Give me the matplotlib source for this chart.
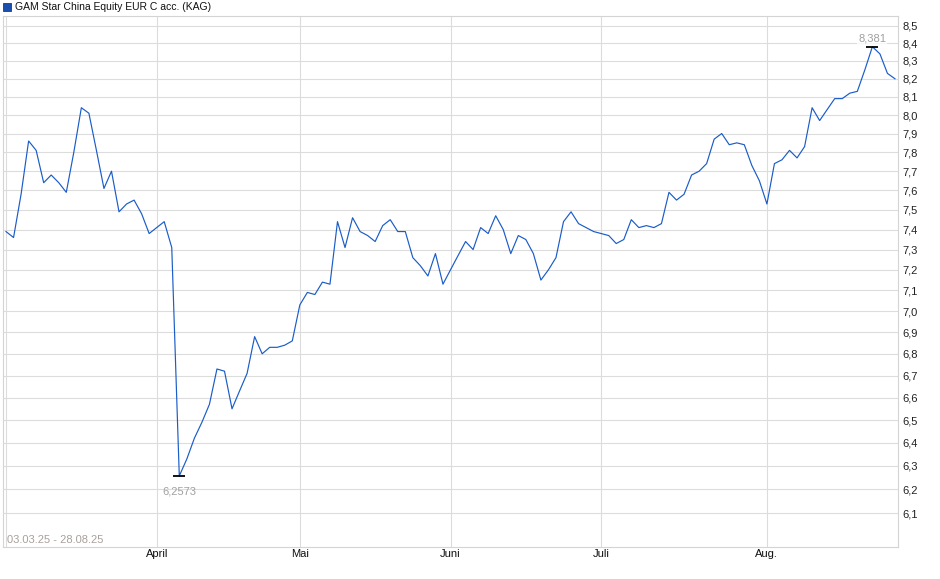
import matplotlib
matplotlib.use("Agg")
import matplotlib.pyplot as plt
from matplotlib.ticker import FixedLocator, FuncFormatter, NullLocator

plt.rcParams['font.family'] = ['Liberation Sans', 'DejaVu Sans']

title = "GAM Star China Equity EUR C acc. (KAG)"
date_range = "03.03.25 - 28.08.25"

prices = [
    7.39, 7.36, 7.58, 7.86, 7.81, 7.64, 7.68, 7.64, 7.59, 7.80,
    8.04, 8.01, 7.81, 7.61, 7.70, 7.49, 7.53, 7.55, 7.48, 7.38,
    7.41, 7.44, 7.31, 6.2573, 6.33, 6.42, 6.49, 6.57, 6.73, 6.72,
    6.55, 6.63, 6.71, 6.88, 6.80, 6.83, 6.83, 6.84, 6.86, 7.03,
    7.09, 7.08, 7.14, 7.13, 7.44, 7.31, 7.46, 7.39, 7.37, 7.34,
    7.42, 7.45, 7.39, 7.39, 7.26, 7.22, 7.17, 7.28, 7.13, 7.20,
    7.27, 7.34, 7.30, 7.41, 7.38, 7.47, 7.40, 7.28, 7.37, 7.35,
    7.28, 7.15, 7.20, 7.26, 7.44, 7.49, 7.43, 7.41, 7.39, 7.38,
    7.37, 7.33, 7.35, 7.45, 7.41, 7.42, 7.41, 7.43, 7.59, 7.55,
    7.58, 7.68, 7.70, 7.74, 7.87, 7.90, 7.84, 7.85, 7.84, 7.73,
    7.65, 7.53, 7.74, 7.76, 7.81, 7.77, 7.83, 8.04, 7.97, 8.03,
    8.09, 8.09, 8.12, 8.13, 8.25, 8.381, 8.34, 8.23, 8.20,
]

month_labels = ["April", "Mai", "Juni", "Juli", "Aug."]
month_index = [20, 39, 59, 79, 101]

y_ticks = [6.1, 6.2, 6.3, 6.4, 6.5, 6.6, 6.7, 6.8, 6.9, 7.0, 7.1, 7.2,
           7.3, 7.4, 7.5, 7.6, 7.7, 7.8, 7.9, 8.0, 8.1, 8.2, 8.3, 8.4, 8.5]

W, H = 940, 579
fig = plt.figure(figsize=(W / 100, H / 100), dpi=100)
ax = fig.add_axes([3 / W, 1 - 546.5 / H, (898 - 3) / W, (546.5 - 16) / H])

x = list(range(len(prices)))
ax.plot(x, prices, color='#1a5cc8', lw=0.85, zorder=3)

ax.set_yscale('log')
ax.set_ylim(5.964, 8.558)
ax.set_xlim(-0.4, 118.4)

ax.yaxis.set_major_locator(FixedLocator(y_ticks))
ax.yaxis.set_minor_locator(NullLocator())
ax.yaxis.set_major_formatter(FuncFormatter(lambda v, p: f"{v:.1f}".replace('.', ',')))
ax.yaxis.tick_right()
ax.tick_params(axis='y', length=0, pad=3.5, labelsize=8, labelcolor='#222222')

ax.set_xticks(month_index)
ax.set_xticklabels(month_labels)
ax.xaxis.set_minor_locator(NullLocator())
ax.tick_params(axis='x', length=0, pad=1.5, labelsize=8, labelcolor='#111111')

ax.grid(True, which='major', color='#dcdcdc', lw=0.8, zorder=0)
ax.axvline(0, color='#dcdcdc', lw=0.8, zorder=0)
for s in ax.spines.values():
    s.set_color('#d4d4d4')
    s.set_linewidth(0.8)

# extremes
imin = prices.index(min(prices))
imax = prices.index(max(prices))
ax.plot([imin], [prices[imin]], marker='_', ms=8, mew=1.3, color='black', zorder=4)
ax.plot([imax], [prices[imax]], marker='_', ms=8, mew=1.3, color='black', zorder=4)
ax.annotate(f"{prices[imin]}".replace('.', ','), (imin, prices[imin]),
            xytext=(0, -11), textcoords='offset points', ha='center', va='center',
            fontsize=8, color='#a0a0a0')
ax.annotate(f"{prices[imax]}".replace('.', ','), (imax, prices[imax]),
            xytext=(0, 6), textcoords='offset points', ha='center', va='center',
            fontsize=8, color='#a0a0a0',
            bbox=dict(boxstyle='square,pad=0.1', fc='white', ec='none', alpha=0.8))

ax.text(0.004, 0.003, date_range, transform=ax.transAxes, ha='left', va='bottom',
        fontsize=8, color='#a8a09c')

# legend
fig.patches.append(plt.Rectangle((3 / W, 1 - 11 / H), 8 / W, 8 / H, transform=fig.transFigure,
                                 fc='#1a4fb0', ec='#333366', lw=0.6))
fig.text(15 / W, 1 - 6.5 / H, title, ha='left', va='center', fontsize=7.5, color='#111111')

fig.savefig('out.png', dpi=100)
